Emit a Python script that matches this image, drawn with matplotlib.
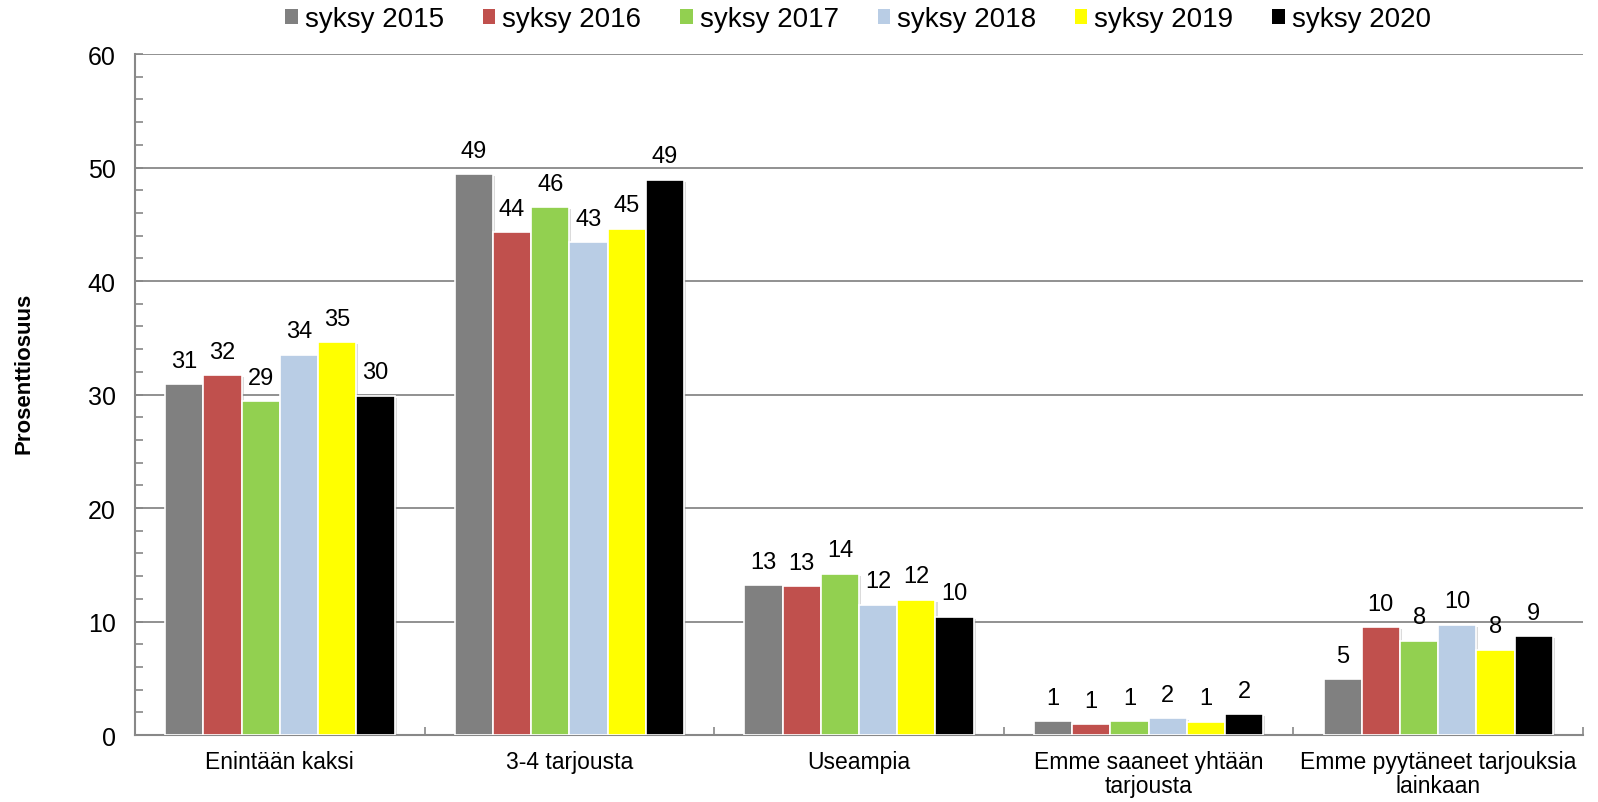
import numpy as np
import matplotlib
matplotlib.use("Agg")
import matplotlib.pyplot as plt
import matplotlib.patheffects as pe
from matplotlib.patches import Patch

categories = ["Enintään kaksi", "3-4 tarjousta", "Useampia",
              "Emme saaneet yhtään\ntarjousta", "Emme pyytäneet tarjouksia\nlainkaan"]
series = ["syksy 2015", "syksy 2016", "syksy 2017", "syksy 2018", "syksy 2019", "syksy 2020"]
colors = ["#808080", "#C0504D", "#92D050", "#B9CDE5", "#FFFF00", "#000000"]

values = [
    [30.9, 49.4, 13.2, 1.2, 4.9],   # 2015
    [31.7, 44.3, 13.1, 0.95, 9.5],  # 2016
    [29.4, 46.5, 14.2, 1.2, 8.3],   # 2017
    [33.5, 43.4, 11.5, 1.5, 9.7],   # 2018
    [34.6, 44.6, 11.9, 1.15, 7.5],  # 2019
    [29.9, 48.9, 10.4, 1.85, 8.7],  # 2020
]
labels = [
    [31, 49, 13, 1, 5],
    [32, 44, 13, 1, 10],
    [29, 46, 14, 1, 8],
    [34, 43, 12, 2, 10],
    [35, 45, 12, 1, 8],
    [30, 49, 10, 2, 9],
]

plt.rcParams['font.family'] = ['Liberation Sans', 'DejaVu Sans']

fig = plt.figure(figsize=(15.98, 8.03), dpi=100)
ax = fig.add_axes([0.0845, 0.0834, 0.9061, 0.8481])

x = np.arange(len(categories))
n = len(series)
width = 0.132
shadow = [pe.SimplePatchShadow(offset=(1.5, -1.5), shadow_rgbFace="#999999", alpha=0.35), pe.Normal()]

for i, (name, col) in enumerate(zip(series, colors)):
    pos = x + (i - (n - 1) / 2) * width
    bars = ax.bar(pos, values[i], width, color=col, edgecolor="white", linewidth=1.2, zorder=3)
    for b in bars:
        b.set_path_effects(shadow)
    ax.bar_label(bars, labels=[str(v) for v in labels[i]], padding=9, fontsize=17, zorder=4)

ax.set_xlim(-0.5, len(categories) - 0.5)
ax.set_ylim(0, 60)
ax.set_yticks(np.arange(0, 61, 10))
ax.set_yticks(np.arange(0, 61, 2), minor=True)
ax.grid(axis="y", which="major", color="#888888", linewidth=1.3, zorder=0)
ax.tick_params(axis="y", which="both", direction="in", color="#888888", labelsize=18, pad=14)
ax.tick_params(axis="y", which="major", length=6, width=1.2)
ax.tick_params(axis="y", which="minor", length=6, width=1.2)

ax.set_xticks(np.arange(0.5, len(categories) - 0.5 + 0.01, 1.0))
ax.set_xticklabels([])
ax.set_xticks(x, minor=True)
ax.set_xticklabels(categories, minor=True, fontsize=16.5, linespacing=1.05)
ax.tick_params(axis="x", which="major", direction="in", length=6, width=1.2, color="#888888")
ax.tick_params(axis="x", which="minor", length=0, pad=11)

for s in ["top", "right"]:
    ax.spines[s].set_visible(False)
for s in ["left", "bottom"]:
    ax.spines[s].set_color("#888888")
    ax.spines[s].set_linewidth(1.5)

ax.set_ylabel("Prosenttiosuus", fontsize=16, fontweight="bold")
ax.yaxis.set_label_coords(-0.0695, 0.533)

handles = [Patch(facecolor=c, edgecolor="none", label=s) for s, c in zip(series, colors)]
fig.legend(handles=handles, loc="center", bbox_to_anchor=(0.537, 0.975), ncol=6, frameon=False,
           fontsize=20, handlelength=0.45, handleheight=0.45, handletextpad=0.25,
           columnspacing=1.4)

fig.savefig("out.png", dpi=100)
